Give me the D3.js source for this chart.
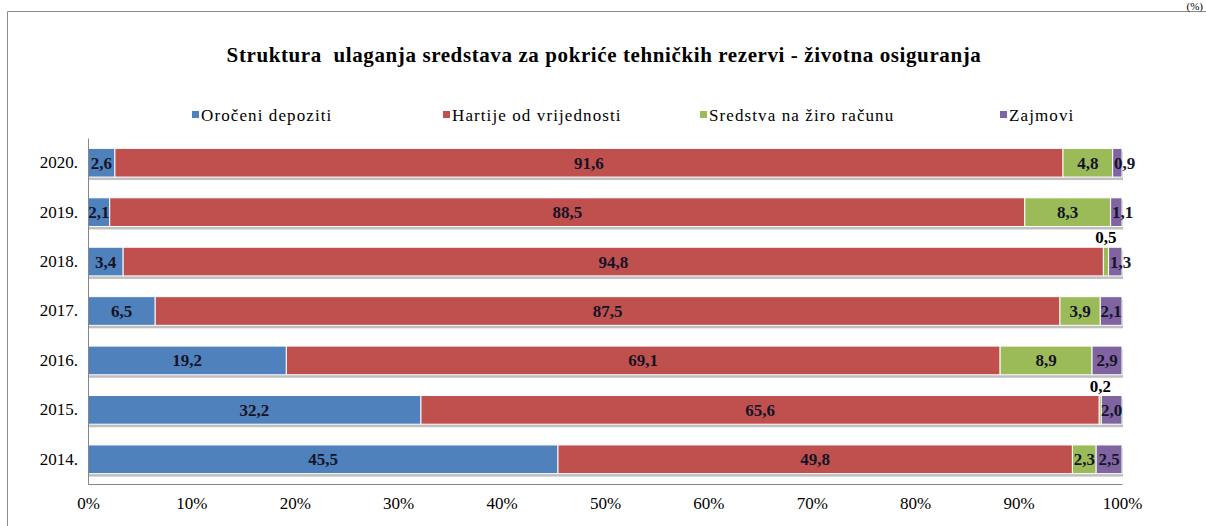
<!DOCTYPE html>
<html>
<head>
<meta charset="utf-8">
<script src="https://cdn.jsdelivr.net/npm/d3@7"></script>
<style>
  body { margin: 0; background: #fff; }
  svg text { font-family: "Liberation Serif", "Times New Roman", serif; }
</style>
</head>
<body>
<div id="chart"></div>
<script>
var years = ["2020.", "2019.", "2018.", "2017.", "2016.", "2015.", "2014."];
var seriesNames = ["Oročeni depoziti", "Hartije od vrijednosti", "Sredstva na žiro računu", "Zajmovi"];
var seriesColors = ["#4F81BD", "#C0504D", "#9BBB59", "#8064A2"];
var orocheni = [2.6, 2.1, 3.4, 6.5, 19.2, 32.2, 45.5];
var hartije = [91.6, 88.5, 94.8, 87.5, 69.1, 65.6, 49.8];
var ziro = [4.8, 8.3, 0.5, 3.9, 8.9, 0.2, 2.3];
var zajmovi = [0.9, 1.1, 1.3, 2.1, 2.9, 2.0, 2.5];
var xTicks = [0, 0.1, 0.2, 0.3, 0.4, 0.5, 0.6, 0.7, 0.8, 0.9, 1];

var serif = "Liberation Serif, Times New Roman, serif";
var width = 1206, height = 526;
var margin = {left: 88, right: 84, top: 138, bottom: 42};

var svg = d3.select("#chart").append("svg")
  .attr("width", width)
  .attr("height", height)
  .attr("font-family", serif);

// frame
svg.append("path")
  .attr("d", "M7.5," + height + "V11.5H" + width)
  .attr("fill", "none")
  .attr("stroke", "#8c8c8c")
  .attr("stroke-width", 1);

svg.append("text")
  .attr("x", 1203).attr("y", 10)
  .attr("text-anchor", "end")
  .attr("font-size", 11)
  .text("(%)");

svg.append("text")
  .attr("x", 604).attr("y", 62)
  .attr("text-anchor", "middle")
  .attr("font-size", 21)
  .attr("font-weight", "bold")
  .attr("letter-spacing", 0.6)
  .attr("xml:space", "preserve")
  .text("Struktura  ulaganja sredstava za pokriće tehničkih rezervi - životna osiguranja");

// legend
var legendX = [192, 443, 700, 1000];
var legend = svg.append("g").selectAll("g")
  .data(seriesNames)
  .enter().append("g")
  .attr("transform", function (d, i) { return "translate(" + legendX[i] + ",121)"; });
legend.append("rect")
  .attr("x", 0).attr("y", -10).attr("width", 7).attr("height", 7)
  .attr("fill", function (d, i) { return seriesColors[i]; });
legend.append("text")
  .attr("x", 9).attr("y", 0)
  .attr("font-size", 17)
  .attr("letter-spacing", 1.1)
  .text(function (d) { return d; });

var x = d3.scaleLinear().domain([0, 1]).range([margin.left, width - margin.right]);
var y = d3.scaleBand().domain(years)
  .range([margin.top, height - margin.bottom])
  .paddingInner(0.42).paddingOuter(0.21);

var rows = years.map(function (yr, i) {
  var vals = [orocheni[i], hartije[i], ziro[i], zajmovi[i]];
  var total = d3.sum(vals);
  var acc = 0;
  return vals.map(function (v, k) {
    var seg = {year: yr, k: k, v: v, x0: acc / total, x1: (acc + v) / total};
    acc += v;
    return seg;
  });
});

// shadows under bars
svg.append("g").selectAll("rect")
  .data(years)
  .enter().append("rect")
  .attr("x", x(0) + 1)
  .attr("y", function (d) { return y(d) + 3; })
  .attr("width", x(1) - x(0))
  .attr("height", y.bandwidth())
  .attr("fill", "#a9a9a9")
  .attr("opacity", 0.75);

var segs = svg.append("g").selectAll("g")
  .data(rows)
  .enter().append("g")
  .selectAll("rect")
  .data(function (d) { return d; })
  .enter();

segs.append("rect")
  .attr("x", function (d) { return x(d.x0); })
  .attr("y", function (d) { return y(d.year); })
  .attr("width", function (d) { return x(d.x1) - x(d.x0); })
  .attr("height", y.bandwidth())
  .attr("fill", function (d) { return seriesColors[d.k]; })
  .attr("stroke", "#fff")
  .attr("stroke-width", 1);

segs.append("text")
  .attr("x", function (d) {
    var cx = (x(d.x0) + x(d.x1)) / 2;
    if (d.k == 3 && (x(d.x1) - x(d.x0)) < 20) cx = x(d.x0) + 12;
    return cx;
  })
  .attr("y", function (d) {
    var cy = y(d.year) + y.bandwidth() / 2 + 6;
    if (d.v < 1 && d.k == 2) cy = y(d.year) - 4;
    return cy;
  })
  .attr("text-anchor", "middle")
  .attr("font-size", 17)
  .attr("font-weight", "bold")
  .attr("fill", function (d) { return (d.v < 1 && d.k == 2) ? "#000" : "#141428"; })
  .text(function (d) { return d3.format(".1f")(d.v).replace(".", ","); });

// axes
var xAxis = svg.append("g")
  .attr("transform", "translate(0," + (height - margin.bottom) + ")")
  .call(d3.axisBottom(x).tickValues(xTicks).tickFormat(d3.format(".0%")).tickSize(0).tickPadding(13));
xAxis.attr("font-family", serif);
xAxis.select(".domain").attr("stroke", "#868686");
xAxis.selectAll("text").attr("font-size", 17).attr("fill", "#000");

var yAxis = svg.append("g")
  .attr("transform", "translate(" + margin.left + ",0)")
  .call(d3.axisLeft(y).tickSize(0).tickPadding(10));
yAxis.attr("font-family", serif);
yAxis.select(".domain").attr("stroke", "#868686");
yAxis.selectAll("text").attr("font-size", 17).attr("fill", "#000");
</script>
</body>
</html>
